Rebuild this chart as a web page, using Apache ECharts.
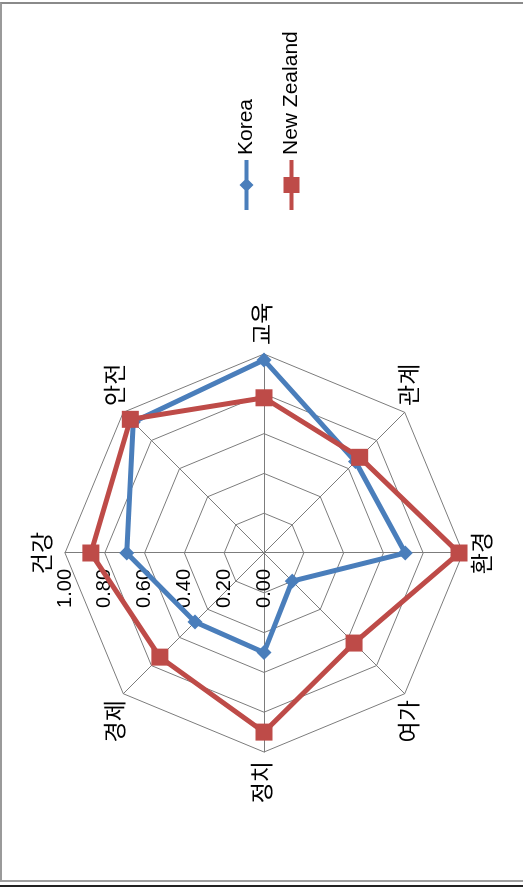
<!DOCTYPE html>
<html>
<head>
<meta charset="utf-8">
<script src="https://cdn.jsdelivr.net/npm/echarts@6/dist/echarts.min.js"></script>
<style>
  html, body { margin: 0; padding: 0; background: #fff; }
  body { width: 523px; height: 894px; position: relative; overflow: hidden; }
  .frame {
    position: absolute; left: 0; top: 2px; width: 523px; height: 880px;
    border-top: 2px solid #8a8a8a; border-left: 2px solid #9a9a9a;
    border-bottom: 2px solid #a0a0a0; box-sizing: border-box;
  }
  .frame-bottom { position: absolute; left: 0; top: 885px; width: 523px; height: 2px; background: #222; }
  /* chart drawn upright at 894x523, then turned a quarter left like the scan */
  #chart {
    position: absolute; left: 0; top: 0; width: 894px; height: 523px;
    transform-origin: 0 0; transform: translate(0, 894px) rotate(-90deg);
  }
</style>
</head>
<body>
<div class="frame"></div>
<div class="frame-bottom"></div>
<div id="chart"></div>
<script>
// axes, counter-clockwise from the top
const indicators = ["건강", "경제", "정치", "여가", "환경", "관계", "교육", "안전"];
const seriesNames = ["Korea", "New Zealand"];
const koreaValues = [0.69, 0.49, 0.50, 0.20, 0.71, 0.65, 0.97, 0.93];
const newZealandValues = [0.87, 0.74, 0.90, 0.64, 0.98, 0.68, 0.78, 0.95];

const fontFamily = "'Liberation Sans', 'Noto Sans CJK KR', sans-serif";
const grey = "#7c7c7c";

// legend icons: a line with the series marker on it (50 x 16 box)
const diamondIcon = "path://M0,6L50,6L50,10L0,10Z M25,1L32,8L25,15L18,8Z";
const squareIcon = "path://M0,6L50,6L50,10L0,10Z M17,0L33,0L33,16L17,16Z";

const chart = echarts.init(document.getElementById("chart"));
chart.setOption({
  animation: false,
  textStyle: { fontFamily: fontFamily },
  legend: {
    orient: "vertical",
    left: 679,
    top: 231,
    itemWidth: 50,
    itemHeight: 16,
    itemGap: 24,
    textStyle: { fontSize: 21, color: "#000", fontFamily: fontFamily },
    data: [
      { name: seriesNames[0], icon: diamondIcon },
      { name: seriesNames[1], icon: squareIcon }
    ]
  },
  radar: {
    center: [341, 264],
    radius: 199,
    shape: "polygon",
    splitNumber: 5,
    startAngle: 90,
    axisName: { color: "#000", fontSize: 23, fontFamily: fontFamily },
    nameGap: 9,
    splitLine: { lineStyle: { color: grey, width: 1 } },
    splitArea: { show: false },
    axisLine: { lineStyle: { color: grey, width: 1 } },
    axisLabel: { show: false },
    indicator: indicators.map((name, i) => {
      const ind = { name: name, min: 0, max: 1 };
      if (i === 0) {
        ind.axisLabel = {
          show: true,
          fontSize: 20,
          color: "#000",
          margin: 16,
          formatter: v => v.toFixed(2)
        };
      }
      return ind;
    })
  },
  series: [
    {
      type: "radar",
      data: [
        {
          name: seriesNames[0],
          value: koreaValues,
          symbol: "diamond",
          symbolSize: 15,
          itemStyle: { color: "#4a7ebb" },
          lineStyle: { color: "#4a7ebb", width: 5 }
        },
        {
          name: seriesNames[1],
          value: newZealandValues,
          symbol: "rect",
          symbolSize: 17,
          itemStyle: { color: "#be4b48" },
          lineStyle: { color: "#be4b48", width: 5 }
        }
      ]
    }
  ]
});
</script>
</body>
</html>
